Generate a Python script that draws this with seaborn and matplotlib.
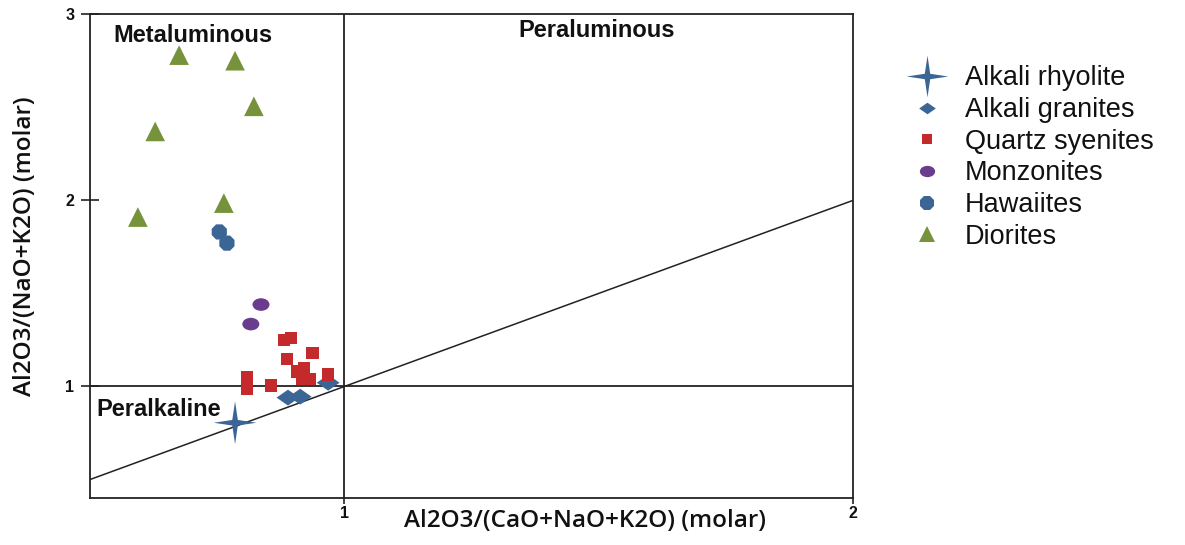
import numpy as np
import pandas as pd
import matplotlib
matplotlib.use("Agg")
import matplotlib.pyplot as plt
from matplotlib.path import Path
from matplotlib.lines import Line2D
import seaborn as sns

# ---- data ----
rhyolite_x = [0.785]
rhyolite_y = [0.805]
granite_x = [0.889, 0.913, 0.968]
granite_y = [0.94, 0.945, 1.02]
syenite_x = [0.881, 0.895, 0.937, 0.887, 0.921, 0.907, 0.917, 0.931, 0.968, 0.809, 0.809, 0.856]
syenite_y = [1.25, 1.26, 1.18, 1.146, 1.10, 1.08, 1.04, 1.04, 1.065, 1.05, 0.99, 1.005]
monzonite_x = [0.836, 0.816]
monzonite_y = [1.44, 1.335]
hawaiite_x = [0.754, 0.769]
hawaiite_y = [1.83, 1.77]
diorite_x = [0.675, 0.785, 0.822, 0.628, 0.763, 0.594]
diorite_y = [2.78, 2.75, 2.505, 2.37, 1.985, 1.91]

series_names = ["Alkali rhyolite", "Alkali granites", "Quartz syenites",
                "Monzonites", "Hawaiites", "Diorites"]
x_ticks = [1, 2]
y_ticks = [1, 2, 3]
region_labels = ["Metaluminous", "Peraluminous", "Peralkaline"]

# ---- styles ----
sns.set_theme(style="white")
plt.rcParams['font.family'] = ['Liberation Sans', 'DejaVu Sans']

a = 0.13
star = Path([(0, 1), (a, a), (1, 0), (a, -a), (0, -1), (-a, -a), (-1, 0), (-a, a), (0, 1)],
            [Path.MOVETO] + [Path.LINETO] * 7 + [Path.CLOSEPOLY])
circ = Path.unit_circle()
ellipse = Path(circ.vertices * np.array([1.35, 1.0]), circ.codes)
diamond = Path([(0, 0.8), (1.15, 0), (0, -0.8), (-1.15, 0), (0, 0.8)],
               [Path.MOVETO] + [Path.LINETO] * 3 + [Path.CLOSEPOLY])

styles = {
    "Alkali rhyolite": dict(marker=star, color="#3A6595", s=950),
    "Alkali granites": dict(marker=diamond, color="#3A6595", s=270),
    "Quartz syenites": dict(marker="s", color="#C42A2C", s=80),
    "Monzonites": dict(marker=ellipse, color="#6B3C8E", s=150),
    "Hawaiites": dict(marker="8", color="#3A6595", s=140),
    "Diorites": dict(marker="^", color="#76933C", s=200),
}
data = {
    "Alkali rhyolite": (rhyolite_x, rhyolite_y),
    "Alkali granites": (granite_x, granite_y),
    "Quartz syenites": (syenite_x, syenite_y),
    "Monzonites": (monzonite_x, monzonite_y),
    "Hawaiites": (hawaiite_x, hawaiite_y),
    "Diorites": (diorite_x, diorite_y),
}

fig = plt.figure(figsize=(11.85, 5.45), dpi=100)
ax = fig.add_axes([0.076, 0.086, 0.644, 0.888])

# reference lines
ax.axvline(1, color="#222222", lw=1.3, zorder=1)
ax.axhline(1, color="#222222", lw=1.3, zorder=1)
ax.axline((1, 1), slope=1, color="#222222", lw=1.1, zorder=1)

for name in series_names:
    xs, ys = data[name]
    st = styles[name]
    sns.scatterplot(x=xs, y=ys, ax=ax, marker=st["marker"], color=st["color"],
                    s=st["s"], edgecolor="none", linewidth=0, zorder=3, legend=False)

ax.set_xlim(0.5, 2)
ax.set_ylim(0.4, 3)
ax.set_xticks(x_ticks)
ax.set_yticks(y_ticks)
ax.set_xticklabels([str(t) for t in x_ticks], fontsize=11.5, fontweight="bold")
ax.set_yticklabels([str(t) for t in y_ticks], fontsize=11.5, fontweight="bold")
ax.tick_params(axis="y", left=True, direction="inout", length=13, width=1.2,
               color="#222222", pad=5, labelcolor="#111111")
ax.tick_params(axis="x", bottom=True, direction="out", length=4, width=1.2,
               color="#222222", pad=2, labelcolor="#111111")
for sp in ax.spines.values():
    sp.set_color("#222222")
    sp.set_linewidth(1.3)

ax.set_xlabel("Al2O3/(CaO+NaO+K2O) (molar)", fontsize=17.5, fontweight="semibold",
              family=["Open Sans", "DejaVu Sans"], color="#111111")
ax.xaxis.set_label_coords((585 - 90) / 763, -0.022)
ax.set_ylabel("Al2O3/(NaO+K2O) (molar)", fontsize=17.5, fontweight="semibold",
              family=["Open Sans", "DejaVu Sans"], color="#111111")
ax.yaxis.set_label_coords(-0.07, 0.52)

ax.text(0.545, 2.887, region_labels[0], fontsize=17, fontweight="bold", ha="left",
        va="center", color="#111111")
ax.text(1.342, 2.912, region_labels[1], fontsize=17, fontweight="bold", ha="left",
        va="center", color="#111111")
ax.text(0.513, 0.876, region_labels[2], fontsize=17, fontweight="bold", ha="left",
        va="center", color="#111111")

# legend
handles = []
leg_sizes = {"Alkali rhyolite": 30, "Alkali granites": 12, "Quartz syenites": 7,
             "Monzonites": 11, "Hawaiites": 11, "Diorites": 12}
for name in series_names:
    st = styles[name]
    handles.append(Line2D([], [], linestyle="none", marker=st["marker"], color=st["color"],
                          markersize=leg_sizes[name], markeredgewidth=0))
leg = fig.legend(handles, series_names, loc="upper left", bbox_to_anchor=(0.755, 0.90),
                 frameon=False, fontsize=19.5, handletextpad=0.6, labelspacing=0.21,
                 handlelength=1.6, borderaxespad=0)
for t in leg.get_texts():
    t.set_color("#111111")

fig.savefig("out.png", dpi=100)
